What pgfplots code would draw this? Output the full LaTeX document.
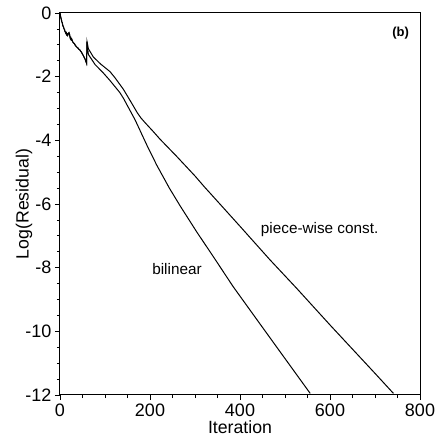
\documentclass[border=0pt]{standalone}
\usepackage{fontspec}
\setmainfont{Liberation Sans}
\usepackage{pgfplots}
\pgfplotsset{compat=1.18}
\begin{document}
\begin{tikzpicture}
\begin{axis}[
  scale only axis, width=360pt, height=382pt,
  at={(0,0)}, anchor=south west,
  xmin=0, xmax=800, ymin=-12, ymax=0,
  xtick={0,200,...,800}, ytick={-12,-10,...,0},
  minor x tick num=3, minor y tick num=3,
  tick align=outside, xtick pos=bottom, ytick pos=left,
  major tick length=5pt, minor tick length=3pt,
  axis line style={line width=1pt},
  every tick/.style={black, line width=0.8pt},
  tick label style={font=\fontsize{18}{20}\selectfont},
  /pgf/number format/assume math mode=true,
  label style={font=\fontsize{17.7}{20}\selectfont},
  xlabel={Iteration}, ylabel={Log(Residual)},
  xlabel style={at={(axis description cs:0.5,-0.102)}, anchor=base},
  ylabel style={at={(axis description cs:-0.1,0.5)}, anchor=center},
  clip=false,
]
\addplot[black, line width=1pt, no marks] coordinates {
(0,0) (1,-0.08) (2,-0.16) (3,-0.2) (4,-0.28) (5,-0.3) (6,-0.38) (7,-0.42) (8,-0.45) (9,-0.5)
(10,-0.52) (11,-0.58) (12,-0.6) (13,-0.64) (14,-0.62) (15,-0.68) (16,-0.66) (17,-0.70) (18,-0.66)
(19,-0.64) (20,-0.62) (21,-0.66) (22,-0.74) (23,-0.8) (24,-0.78) (25,-0.84) (26,-0.82) (28,-0.9)
(30,-0.94) (32,-0.96) (34,-1.02) (36,-1.05) (38,-1.08) (40,-1.1) (42,-1.14) (44,-1.16) (46,-1.2)
(48,-1.24) (50,-1.3) (52,-1.34) (54,-1.4) (56,-1.46) (58,-1.54) (59,-1.58) (60,-0.9)
(63,-1.12) (74,-1.38) (90,-1.6) (111,-1.84) (122,-2.03) (141,-2.4) (160,-2.85) (172,-3.14)
(180,-3.3) (190,-3.46) (207,-3.72) (222,-3.96) (259,-4.5) (300,-5.12) (322,-5.48) (333,-5.65)
(400,-6.7) (467,-7.76) (526,-8.65) (600,-9.8) (700,-11.32) (741,-11.95)
};
\addplot[black, line width=1pt, no marks] coordinates {
(0,0) (1,-0.08) (2,-0.16) (3,-0.2) (4,-0.28) (5,-0.3) (6,-0.38) (7,-0.42) (8,-0.45) (9,-0.5)
(10,-0.52) (11,-0.58) (12,-0.6) (13,-0.64) (14,-0.62) (15,-0.68) (16,-0.66) (17,-0.70) (18,-0.66)
(19,-0.64) (20,-0.62) (21,-0.66) (22,-0.74) (23,-0.8) (24,-0.78) (25,-0.84) (26,-0.82) (28,-0.9)
(30,-0.94) (32,-0.96) (34,-1.02) (36,-1.05) (38,-1.08) (40,-1.1) (42,-1.14) (44,-1.16) (46,-1.2)
(48,-1.24) (50,-1.3) (52,-1.34) (54,-1.4) (56,-1.46) (58,-1.54) (59,-1.58) (60,-0.9)
(63,-1.3) (78,-1.62) (96,-1.88) (111,-2.12) (133,-2.5) (141,-2.68) (167,-3.36) (193,-4.15)
(215,-4.78) (243,-5.5) (267,-6.06) (304,-6.88) (341,-7.66) (385,-8.6) (440,-9.68) (489,-10.64)
(556,-11.95)
};
\node[font=\fontsize{15.3}{17}\selectfont] at (axis cs:260,-8.04) {bilinear};
\node[font=\fontsize{15.3}{17}\selectfont] at (axis cs:577,-6.79) {piece-wise const.};
\node[font=\fontsize{13}{15}\selectfont\bfseries] at (axis cs:757,-0.63) {(b)};
\end{axis}
\pgfresetboundingbox
\path[use as bounding box] (-60pt,-46pt) rectangle (381pt,395pt);
\end{tikzpicture}
\end{document}
